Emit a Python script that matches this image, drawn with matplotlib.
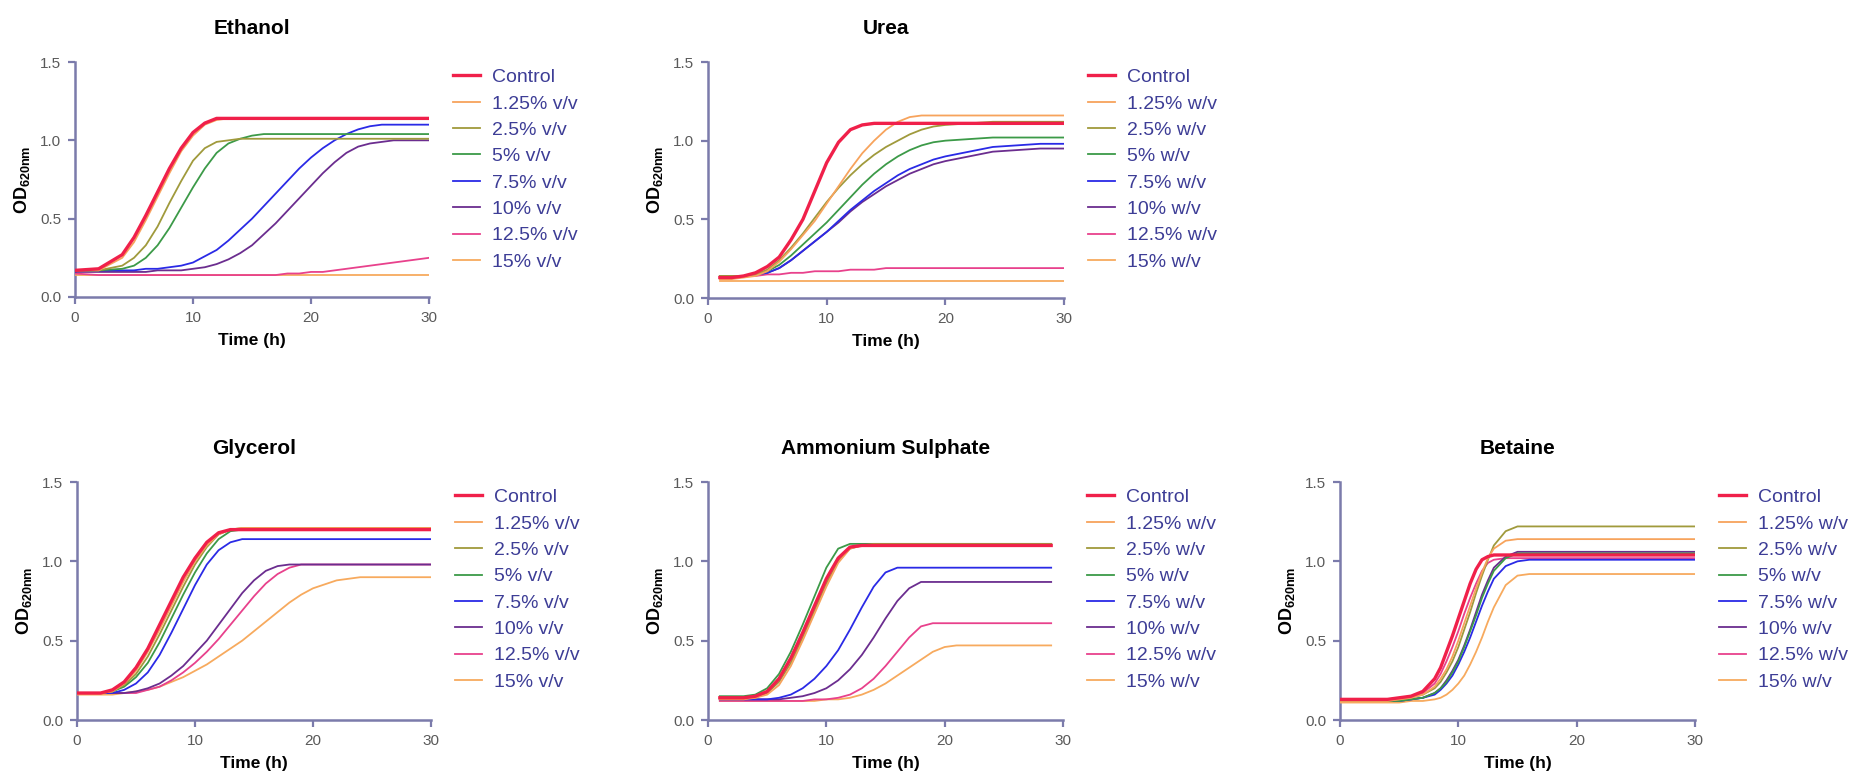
import matplotlib
matplotlib.use('Agg')
import matplotlib.pyplot as plt

plt.rcParams['font.family'] = ['Liberation Sans', 'DejaVu Sans']
plt.rcParams['mathtext.fontset'] = 'custom'
plt.rcParams['mathtext.rm'] = 'Liberation Sans'
plt.rcParams['mathtext.bf'] = 'Liberation Sans:bold'

# --- data (OD620nm) ---
vv_labels = ['Control', '1.25% v/v', '2.5% v/v', '5% v/v', '7.5% v/v', '10% v/v', '12.5% v/v', '15% v/v']
wv_labels = ['Control', '1.25% w/v', '2.5% w/v', '5% w/v', '7.5% w/v', '10% w/v', '12.5% w/v', '15% w/v']
colors = ['#f0204a', '#f7a35c', '#a09a3c', '#3c9a48', '#2a2ae6', '#6b2d8f', '#e8418c', '#f7aa5e']

ethanol_t = [0, 2, 4, 5, 6, 7, 8, 9, 10, 11, 12, 13, 14, 15, 16, 17, 18, 19, 20, 21, 22, 23, 24, 25, 26, 27, 28, 30]
ethanol_od = [
    [.17, .18, .27, .38, .52, .67, .82, .95, 1.05, 1.11, 1.14, 1.14, 1.14, 1.14, 1.14, 1.14, 1.14, 1.14, 1.14, 1.14, 1.14, 1.14, 1.14, 1.14, 1.14, 1.14, 1.14, 1.14],
    [.17, .17, .25, .35, .49, .64, .79, .93, 1.03, 1.10, 1.13, 1.14, 1.14, 1.14, 1.14, 1.14, 1.14, 1.14, 1.14, 1.14, 1.14, 1.14, 1.14, 1.14, 1.14, 1.14, 1.14, 1.14],
    [.17, .17, .20, .25, .33, .45, .60, .74, .87, .95, .99, 1.0, 1.01, 1.01, 1.01, 1.01, 1.01, 1.01, 1.01, 1.01, 1.01, 1.01, 1.01, 1.01, 1.01, 1.01, 1.01, 1.01],
    [.17, .17, .18, .20, .25, .33, .44, .57, .70, .82, .92, .98, 1.01, 1.03, 1.04, 1.04, 1.04, 1.04, 1.04, 1.04, 1.04, 1.04, 1.04, 1.04, 1.04, 1.04, 1.04, 1.04],
    [.17, .17, .17, .17, .18, .18, .19, .20, .22, .26, .30, .36, .43, .50, .58, .66, .74, .82, .89, .95, 1.00, 1.04, 1.07, 1.09, 1.10, 1.10, 1.10, 1.10],
    [.16, .16, .16, .16, .16, .17, .17, .17, .18, .19, .21, .24, .28, .33, .40, .47, .55, .63, .71, .79, .86, .92, .96, .98, .99, 1.0, 1.0, 1.0],
    [.15, .14, .14, .14, .14, .14, .14, .14, .14, .14, .14, .14, .14, .14, .14, .14, .15, .15, .16, .16, .17, .18, .19, .20, .21, .22, .23, .25],
    [.14, .14, .14, .14, .14, .14, .14, .14, .14, .14, .14, .14, .14, .14, .14, .14, .14, .14, .14, .14, .14, .14, .14, .14, .14, .14, .14, .14],
]

urea_t = [1, 2, 3, 4, 5, 6, 7, 8, 9, 10, 11, 12, 13, 14, 15, 16, 17, 18, 19, 20, 22, 24, 26, 28, 30]
urea_od = [
    [.13, .13, .14, .16, .20, .26, .37, .50, .68, .86, .99, 1.07, 1.10, 1.11, 1.11, 1.11, 1.11, 1.11, 1.11, 1.11, 1.11, 1.11, 1.11, 1.11, 1.11],
    [.12, .12, .13, .14, .17, .23, .31, .40, .49, .60, .71, .82, .92, 1.0, 1.07, 1.12, 1.15, 1.16, 1.16, 1.16, 1.16, 1.16, 1.16, 1.16, 1.16],
    [.14, .14, .14, .15, .18, .24, .32, .41, .51, .61, .70, .78, .85, .91, .96, 1.00, 1.04, 1.07, 1.09, 1.10, 1.11, 1.12, 1.12, 1.12, 1.12],
    [.14, .14, .14, .15, .17, .21, .27, .34, .41, .48, .56, .64, .72, .79, .85, .90, .94, .97, .99, 1.00, 1.01, 1.02, 1.02, 1.02, 1.02],
    [.14, .14, .14, .15, .16, .19, .24, .30, .36, .42, .49, .56, .62, .68, .73, .78, .82, .85, .88, .90, .93, .96, .97, .98, .98],
    [.13, .13, .14, .15, .16, .19, .24, .30, .36, .42, .48, .55, .61, .66, .71, .75, .79, .82, .85, .87, .90, .93, .94, .95, .95],
    [.13, .13, .14, .14, .15, .15, .16, .16, .17, .17, .17, .18, .18, .18, .19, .19, .19, .19, .19, .19, .19, .19, .19, .19, .19],
    [.11, .11, .11, .11, .11, .11, .11, .11, .11, .11, .11, .11, .11, .11, .11, .11, .11, .11, .11, .11, .11, .11, .11, .11, .11],
]

glycerol_t = [0, 2, 3, 4, 5, 6, 7, 8, 9, 10, 11, 12, 13, 14, 15, 16, 17, 18, 19, 20, 22, 24, 26, 30]
glycerol_od = [
    [.17, .17, .19, .24, .33, .45, .60, .75, .90, 1.02, 1.12, 1.18, 1.20, 1.20, 1.20, 1.20, 1.20, 1.20, 1.20, 1.20, 1.20, 1.20, 1.20, 1.20],
    [.17, .17, .18, .23, .31, .43, .57, .72, .87, 1.00, 1.10, 1.17, 1.20, 1.21, 1.21, 1.21, 1.21, 1.21, 1.21, 1.21, 1.21, 1.21, 1.21, 1.21],
    [.17, .17, .18, .22, .29, .40, .54, .69, .84, .98, 1.09, 1.17, 1.20, 1.21, 1.21, 1.21, 1.21, 1.21, 1.21, 1.21, 1.21, 1.21, 1.21, 1.21],
    [.17, .17, .18, .21, .27, .36, .49, .64, .79, .93, 1.05, 1.14, 1.19, 1.20, 1.20, 1.20, 1.20, 1.20, 1.20, 1.20, 1.20, 1.20, 1.20, 1.20],
    [.17, .17, .17, .19, .23, .30, .41, .55, .70, .85, .98, 1.07, 1.12, 1.14, 1.14, 1.14, 1.14, 1.14, 1.14, 1.14, 1.14, 1.14, 1.14, 1.14],
    [.17, .17, .17, .17, .18, .20, .23, .28, .34, .42, .50, .60, .70, .80, .88, .94, .97, .98, .98, .98, .98, .98, .98, .98],
    [.17, .17, .17, .17, .17, .19, .21, .25, .30, .36, .43, .51, .60, .69, .78, .86, .92, .96, .98, .98, .98, .98, .98, .98],
    [.16, .16, .16, .17, .18, .19, .21, .24, .27, .31, .35, .40, .45, .50, .56, .62, .68, .74, .79, .83, .88, .90, .90, .90],
]

ammonium_t = [1, 2, 3, 4, 5, 6, 7, 8, 9, 10, 11, 12, 13, 14, 15, 16, 17, 18, 19, 20, 21, 22, 24, 26, 29]
ammonium_od = [
    [.14, .14, .14, .15, .18, .26, .39, .55, .72, .89, 1.02, 1.09, 1.10, 1.10, 1.10, 1.10, 1.10, 1.10, 1.10, 1.10, 1.10, 1.10, 1.10, 1.10, 1.10],
    [.13, .13, .13, .14, .16, .22, .34, .50, .67, .84, .99, 1.08, 1.10, 1.10, 1.10, 1.10, 1.10, 1.10, 1.10, 1.10, 1.10, 1.10, 1.10, 1.10, 1.10],
    [.14, .14, .14, .14, .17, .24, .36, .52, .69, .86, 1.00, 1.08, 1.10, 1.11, 1.11, 1.11, 1.11, 1.11, 1.11, 1.11, 1.11, 1.11, 1.11, 1.11, 1.11],
    [.15, .15, .15, .16, .20, .29, .43, .60, .78, .96, 1.08, 1.11, 1.11, 1.11, 1.11, 1.11, 1.11, 1.11, 1.11, 1.11, 1.11, 1.11, 1.11, 1.11, 1.11],
    [.13, .13, .13, .13, .13, .14, .16, .20, .26, .34, .44, .57, .71, .84, .93, .96, .96, .96, .96, .96, .96, .96, .96, .96, .96],
    [.13, .13, .13, .13, .13, .13, .14, .15, .17, .20, .25, .32, .41, .52, .64, .75, .83, .87, .87, .87, .87, .87, .87, .87, .87],
    [.12, .12, .12, .12, .12, .12, .12, .12, .13, .13, .14, .16, .20, .26, .34, .43, .52, .59, .61, .61, .61, .61, .61, .61, .61],
    [.12, .12, .12, .12, .12, .12, .12, .12, .12, .13, .13, .14, .16, .19, .23, .28, .33, .38, .43, .46, .47, .47, .47, .47, .47],
]

betaine_t = [0, 2, 4, 5, 6, 7, 8, 8.5, 9, 9.5, 10, 10.5, 11, 11.5, 12, 12.5, 13, 14, 15, 16, 18, 20, 25, 30]
betaine_od = [
    [.13, .13, .13, .14, .15, .18, .26, .33, .43, .53, .64, .75, .86, .95, 1.01, 1.03, 1.04, 1.04, 1.04, 1.04, 1.04, 1.04, 1.04, 1.04],
    [.12, .12, .12, .13, .14, .16, .21, .26, .32, .40, .50, .61, .72, .83, .93, 1.02, 1.08, 1.13, 1.14, 1.14, 1.14, 1.14, 1.14, 1.14],
    [.12, .12, .12, .13, .14, .16, .20, .24, .30, .37, .46, .57, .68, .80, .91, 1.01, 1.10, 1.19, 1.22, 1.22, 1.22, 1.22, 1.22, 1.22],
    [.12, .12, .12, .12, .13, .14, .17, .20, .24, .30, .37, .46, .56, .66, .77, .86, .94, 1.02, 1.05, 1.05, 1.05, 1.05, 1.05, 1.05],
    [.12, .12, .12, .12, .13, .14, .16, .19, .23, .28, .35, .43, .52, .62, .72, .81, .89, .97, 1.00, 1.01, 1.01, 1.01, 1.01, 1.01],
    [.12, .12, .12, .12, .13, .14, .17, .20, .25, .31, .38, .47, .57, .68, .79, .88, .96, 1.03, 1.06, 1.06, 1.06, 1.06, 1.06, 1.06],
    [.13, .13, .13, .14, .15, .17, .23, .29, .37, .46, .56, .67, .77, .86, .94, .99, 1.01, 1.02, 1.02, 1.02, 1.02, 1.02, 1.02, 1.02],
    [.11, .11, .11, .11, .12, .12, .13, .14, .16, .19, .23, .28, .35, .43, .52, .62, .71, .85, .91, .92, .92, .92, .92, .92],
]

W, H = 1853, 776
axis_col = '#7b7bab'
legend_col = '#3d3d96'

fig = plt.figure(figsize=(W / 100, H / 100), dpi=100)


def panel(box, title, t, od, labels):
    # box = left, right, top, bottom in pixels
    l, r, tp, b = box
    ax = fig.add_axes([l / W, 1 - b / H, (r - l) / W, (b - tp) / H])
    for i in range(len(od)):
        lw = 2.4 if i == 0 else 1.3
        ax.plot(t, od[i], color=colors[i], lw=lw, label=labels[i], zorder=10 - i)
    ax.set_xlim(0, 30)
    ax.set_ylim(0, 1.5)
    ax.set_xticks([0, 10, 20, 30])
    ax.set_yticks([0, 0.5, 1.0, 1.5])
    ax.set_yticklabels(['0.0', '0.5', '1.0', '1.5'])
    for s in ['top', 'right']:
        ax.spines[s].set_visible(False)
    for s in ['left', 'bottom']:
        ax.spines[s].set_color(axis_col)
        ax.spines[s].set_linewidth(1.8)
    ax.tick_params(direction='out', length=5, width=1.6, color=axis_col,
                   labelcolor='#5a5a5a', labelsize=11, pad=5)
    ax.set_title(title, fontsize=15, fontweight='bold', pad=20)
    ax.set_xlabel('Time (h)', fontsize=12.5, fontweight='bold', labelpad=6)
    ax.set_ylabel(r'$\mathbf{OD_{620nm}}$', fontsize=13, labelpad=6)
    leg = ax.legend(loc='upper left', bbox_to_anchor=(1.067, 0.972), frameon=False,
                    fontsize=14, handlelength=1.4, handletextpad=0.6,
                    labelspacing=0.45, borderpad=0, borderaxespad=0)
    for txt in leg.get_texts():
        txt.set_color(legend_col)
    return ax


panel((75, 429, 62, 297), 'Ethanol', ethanol_t, ethanol_od, vv_labels)
panel((708, 1064, 62, 298), 'Urea', urea_t, urea_od, wv_labels)
panel((77, 431, 482, 720), 'Glycerol', glycerol_t, glycerol_od, vv_labels)
panel((708, 1063, 482, 720), 'Ammonium Sulphate', ammonium_t, ammonium_od, wv_labels)
panel((1340, 1695, 482, 720), 'Betaine', betaine_t, betaine_od, wv_labels)

plt.savefig('out.png', dpi=100)
